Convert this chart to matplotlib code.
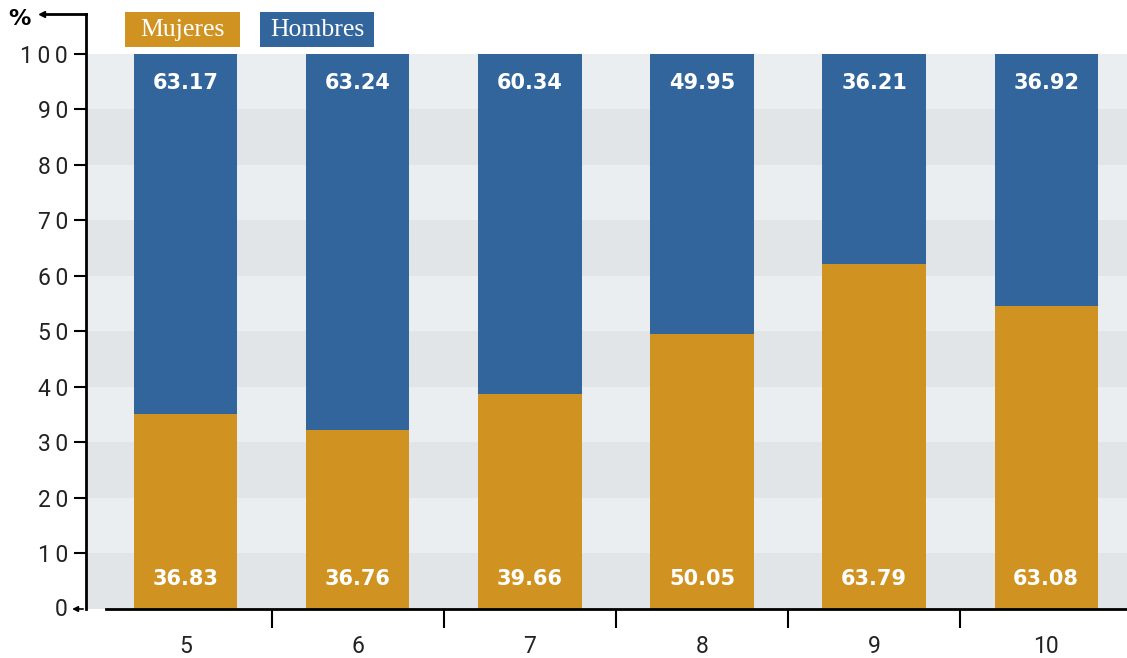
import numpy as np
import matplotlib
matplotlib.use("Agg")
from matplotlib import pyplot as plt
from matplotlib.patches import Rectangle

# data
categorias = ["5", "6", "7", "8", "9", "10"]
mujeres_alto = [35.1, 32.3, 38.7, 49.5, 62.2, 54.6]   # bar heights as drawn
hombres_alto = [64.9, 67.7, 61.3, 50.5, 37.8, 45.4]
mujeres_txt = ["36.83", "36.76", "39.66", "50.05", "63.79", "63.08"]
hombres_txt = ["63.17", "63.24", "60.34", "49.95", "36.21", "36.92"]
y_ticks = [0, 10, 20, 30, 40, 50, 60, 70, 80, 90, 100]

c_muj = "#d09322"
c_hom = "#31659c"
c_txt = "#222222"

W, H = 1127, 658
fig = plt.figure(figsize=(W / 100, H / 100), dpi=100)
ax = fig.add_axes([86 / W, (H - 609) / H, 1 - 86 / W, (609 - 14) / H])

x = np.arange(len(categorias))
xmin, xmax = -0.58, 5.47
ax.set_xlim(xmin, xmax)
ax.set_ylim(0, 107.2)

# striped background
for i, lo in enumerate(y_ticks[:-1]):
    ax.axhspan(lo, lo + 10, color="#e1e5e8" if i % 2 == 0 else "#eaeef1", zorder=0, lw=0)

ax.bar(x, mujeres_alto, width=0.6, color=c_muj, zorder=2)
ax.bar(x, hombres_alto, width=0.6, bottom=mujeres_alto, color=c_hom, zorder=2)

for xi, tm, th in zip(x, mujeres_txt, hombres_txt):
    ax.text(xi, 5.4, tm, ha="center", va="center", color="white",
            fontsize=15, fontweight="bold", zorder=3)
    ax.text(xi, 94.8, th, ha="center", va="center", color="white",
            fontsize=15, fontweight="bold", zorder=3)

# axes styling
for s in ["top", "right"]:
    ax.spines[s].set_visible(False)
ax.spines["left"].set_linewidth(2)
ax.spines["bottom"].set_linewidth(2)
ax.spines["bottom"].set_bounds(xmin + 20 / 172.5, xmax)

ax.set_yticks(y_ticks[1:])
ax.set_yticklabels(["\u2009".join(str(v)) for v in y_ticks[1:]],
                   fontsize=16.5, color=c_txt, family="Roboto")
ax.tick_params(axis="y", length=9, width=1.5, direction="out", pad=4)

ax.set_xticks(x)
ax.set_xticklabels(categorias, fontsize=16.5, color=c_txt, family="Roboto")
ax.set_xticks(x[:-1] + 0.5, minor=True)
ax.tick_params(axis="x", which="major", length=0, pad=19)
ax.tick_params(axis="x", which="minor", length=14, width=1.5, direction="out")

# "0" with small arrow at the bottom of the y axis
ax.annotate("", xy=(-12, 0), xycoords=("axes points", "data"),
            xytext=(0, 0), textcoords=("axes points", "data"),
            arrowprops=dict(arrowstyle="-|>", color="black", lw=1.2, mutation_scale=8),
            annotation_clip=False)
ax.annotate("0", xy=(0, 0), xycoords=("axes points", "data"),
            xytext=(-13, 0), textcoords="offset points",
            ha="right", va="center", fontsize=16.5, color=c_txt, family="Roboto",
            annotation_clip=False)

# "%" with arrow at the top of the y axis
fig.add_artist(plt.Line2D([44 / W, 86 / W], [1 - 14 / H, 1 - 14 / H], color="black", lw=2))
fig.add_artist(plt.Line2D([42 / W], [1 - 14 / H], marker="<", color="black", markersize=5))
fig.text(8 / W, 1 - 19 / H, "%", fontsize=16, fontweight="bold", ha="left", va="center")

# legend boxes
for x0, x1, nombre, col in [(125, 240, "Mujeres", c_muj), (260, 374, "Hombres", c_hom)]:
    fig.add_artist(Rectangle((x0 / W, 1 - 47 / H), (x1 - x0) / W, 35 / H,
                             transform=fig.transFigure, fc=col, ec="none"))
    fig.text((x0 + x1) / 2 / W, 1 - 30 / H, nombre, fontsize=18.5,
             family="Liberation Serif", color="white", ha="center", va="center")

fig.savefig("out.png", dpi=100)
